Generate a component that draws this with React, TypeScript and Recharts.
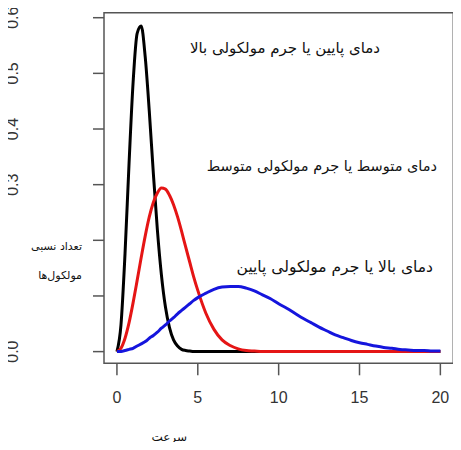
import { LineChart, Line, XAxis, YAxis, ReferenceArea } from 'recharts';

// speed axis samples (finer near the narrow low-temperature peak)
const speeds = [
  0, 0.25, 0.5, 0.75, 1, 1.25, 1.5, 1.75, 2, 2.25, 2.5, 2.75, 3, 3.25, 3.5, 3.75, 4, 4.25, 4.5, 4.75, 5,
  5.5, 6, 6.5, 7, 7.5, 8, 8.5, 9, 9.5, 10, 10.5, 11, 11.5, 12, 12.5, 13, 13.5, 14, 14.5, 15,
  15.5, 16, 16.5, 17, 17.5, 18, 18.5, 19, 19.5, 20
];

// black: low temperature / high molar mass
const lowTemp = [
  0, 0.048, 0.176, 0.339, 0.484, 0.572, 0.585, 0.529, 0.432, 0.321, 0.219, 0.138, 0.08, 0.043, 0.021, 0.01, 0.004, 0.002, 0.001, 0, 0,
  0, 0, 0, 0, 0, 0, 0, 0, 0, 0, 0, 0, 0, 0, 0, 0, 0, 0, 0, 0,
  0, 0, 0, 0, 0, 0, 0, 0, 0, 0
];

// red: medium
const midTemp = [
  0, 0.006, 0.024, 0.052, 0.088, 0.128, 0.169, 0.208, 0.242, 0.268, 0.285, 0.294, 0.292, 0.281, 0.264, 0.242, 0.216, 0.188, 0.161, 0.134, 0.11,
  0.069, 0.04, 0.021, 0.011, 0.005, 0.002, 0.001, 0, 0, 0, 0, 0, 0, 0, 0, 0, 0, 0, 0, 0,
  0, 0, 0, 0, 0, 0, 0, 0, 0, 0
];

// blue: high temperature / low molar mass
const highTemp = [
  0, 0.0004, 0.002, 0.004, 0.006, 0.01, 0.014, 0.018, 0.024, 0.029, 0.035, 0.042, 0.048, 0.055, 0.061, 0.068, 0.074, 0.08, 0.086, 0.092, 0.097,
  0.105, 0.112, 0.116, 0.117, 0.117, 0.114, 0.109, 0.102, 0.095, 0.086, 0.078, 0.069, 0.06, 0.052, 0.044, 0.037, 0.03, 0.025, 0.02, 0.016,
  0.013, 0.01, 0.0075, 0.006, 0.004, 0.003, 0.002, 0.002, 0.001, 0.001
];

const xTicks = [0, 5, 10, 15, 20];
const yTicks = [0, 0.1, 0.2, 0.3, 0.4, 0.5, 0.6];
const yTickLabels = ['0.0', '', '', '0.3', '0.4', '0.5', '0.6'];

const X_DOMAIN: [number, number] = [-0.8, 20.8];
const Y_DOMAIN: [number, number] = [-0.021, 0.609];

const chartData = speeds.map((v, i) => ({
  v,
  low: lowTemp[i],
  mid: midTemp[i],
  high: highTemp[i]
}));

const numFont = '"Liberation Sans", Arial, sans-serif';
const faFont = '"DejaVu Sans", sans-serif';

const XTick = ({ x, payload }: any) => (
  <text x={x} y={403} textAnchor="middle" fontSize={16} fontFamily={numFont} fill="#333">
    {payload.value}
  </text>
);

const YTick = ({ y, payload }: any) => {
  const idx = yTicks.indexOf(payload.value);
  const label = idx >= 0 ? yTickLabels[idx] : '';
  if (!label) return <g />;
  return (
    <text
      transform={`translate(12, ${y}) rotate(-90)`}
      textAnchor="middle"
      dominantBaseline="central"
      fontSize={16}
      fontFamily={numFont}
      fill="#333"
    >
      {label}
    </text>
  );
};

const Note = ({ right, cy, size, children }: { right: number; cy: number; size: number; children: string }) => (
  <div
    style={{
      position: 'absolute',
      right: 461 - right,
      top: cy,
      transform: 'translateY(-50%)',
      direction: 'rtl',
      whiteSpace: 'nowrap',
      fontFamily: faFont,
      fontSize: size,
      lineHeight: 1,
      color: '#111'
    }}
  >
    {children}
  </div>
);

export default function App() {
  return (
    <div style={{ position: 'relative', width: 461, height: 450, margin: -8, background: '#fff' }}>
      <LineChart
        width={461}
        height={450}
        data={chartData}
        margin={{ top: 12.7, right: 7.7, bottom: 46.7, left: 0 }}
      >
        <XAxis
          dataKey="v"
          type="number"
          domain={X_DOMAIN}
          allowDataOverflow
          ticks={xTicks}
          tickSize={12}
          axisLine={false}
          tickLine={{ stroke: '#555', strokeWidth: 1.5 }}
          tick={<XTick />}
          height={40}
        />
        <YAxis
          type="number"
          domain={Y_DOMAIN}
          allowDataOverflow
          ticks={yTicks}
          tickSize={11}
          axisLine={false}
          tickLine={{ stroke: '#555', strokeWidth: 1.5 }}
          tick={<YTick />}
          width={104}
        />
        <ReferenceArea
          x1={X_DOMAIN[0]}
          x2={X_DOMAIN[1]}
          y1={Y_DOMAIN[0]}
          y2={Y_DOMAIN[1]}
          fill="none"
          stroke="#555"
          strokeWidth={1.5}
          ifOverflow="visible"
        />
        <Line type="monotone" dataKey="low" stroke="#000" strokeWidth={3} dot={false} isAnimationActive={false} />
        <Line type="monotone" dataKey="mid" stroke="#e51515" strokeWidth={3} dot={false} isAnimationActive={false} />
        <Line type="monotone" dataKey="high" stroke="#1515dd" strokeWidth={3} dot={false} isAnimationActive={false} />
      </LineChart>

      <Note right={380} cy={48} size={15}>دمای پایین یا جرم مولکولی بالا</Note>
      <Note right={437} cy={166} size={14.5}>دمای متوسط یا جرم مولکولی متوسط</Note>
      <Note right={433} cy={268} size={15.5}>دمای بالا یا جرم مولکولی پایین</Note>
      <Note right={82} cy={246} size={11}>تعداد نسبی</Note>
      <Note right={82} cy={275} size={11}>مولکول‌ها</Note>
      <Note right={187} cy={437} size={12}>سرعت</Note>
    </div>
  );
}
